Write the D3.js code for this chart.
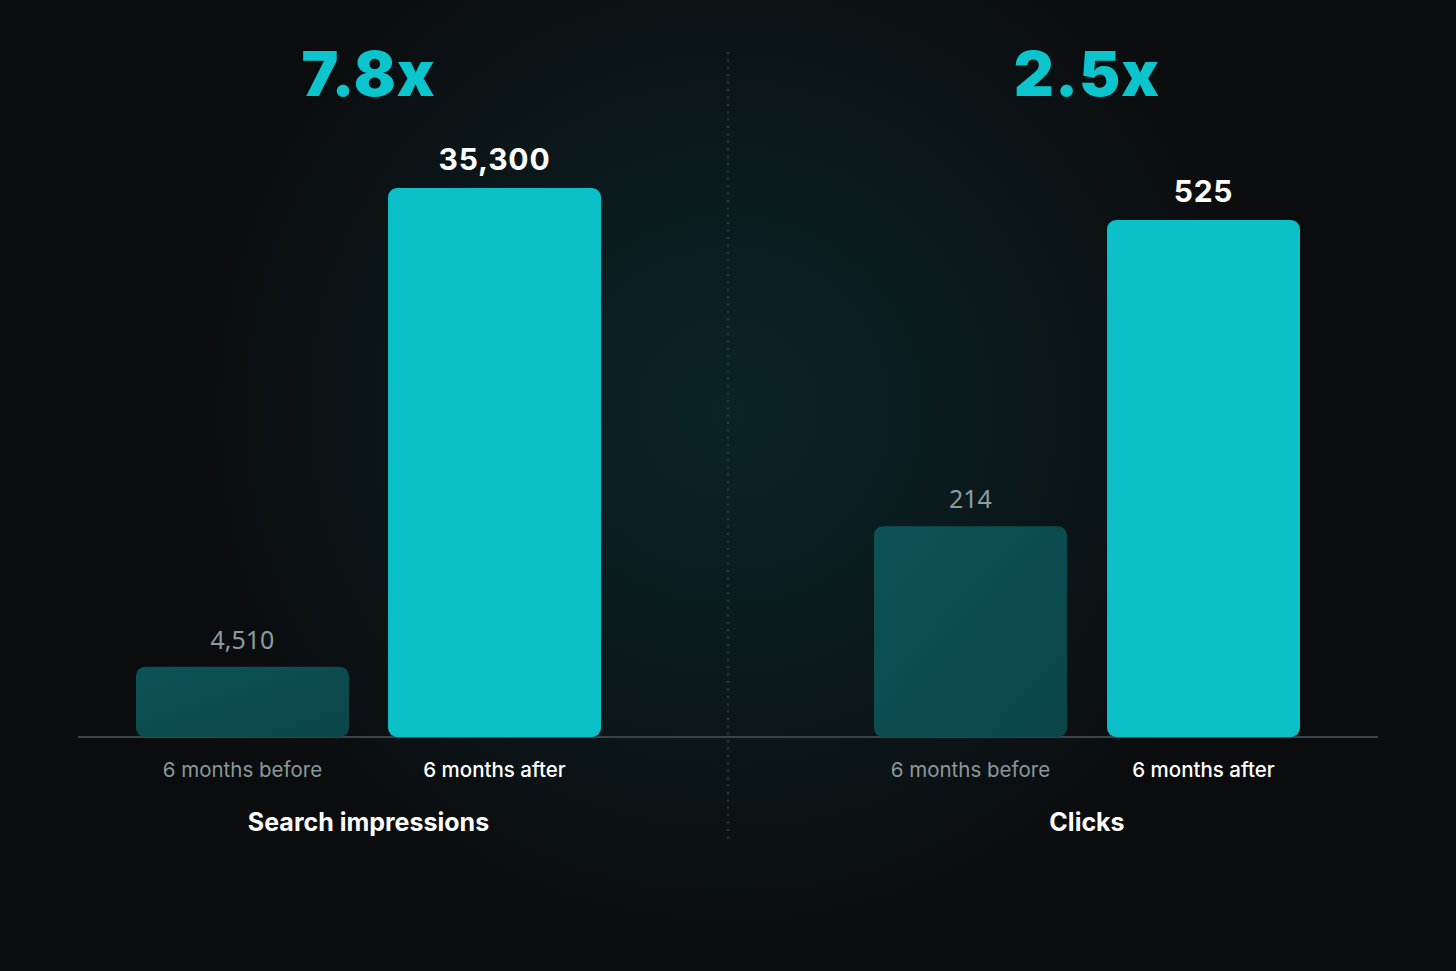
<!DOCTYPE html>
<html><head><meta charset="utf-8">
<script src="https://cdn.jsdelivr.net/npm/d3@7"></script>
<style>
html,body{margin:0;padding:0;background:#0b0c0d;}
svg{display:block;}
</style></head>
<body>
<svg id="chart" width="1456" height="971"></svg>
<script>
// ---- data ----
const panelTitles = ["Search impressions", "Clicks"];
const multipliers = ["7.8x", "2.5x"];
const periods = ["6 months before", "6 months after"];
const impressionsValues = [4510, 35300];
const clicksValues = [214, 525];

const svg = d3.select("#chart");
const W = 1456, H = 971, baseY = 737;

// background
const defs = svg.append("defs");
const rg = defs.append("radialGradient").attr("id","bg").attr("gradientUnits","userSpaceOnUse")
  .attr("cx",728).attr("cy",410).attr("r",560);
rg.append("stop").attr("offset","0%").attr("stop-color","#0b2428");
rg.append("stop").attr("offset","45%").attr("stop-color","#0b1a1d");
rg.append("stop").attr("offset","100%").attr("stop-color","#0b0c0d");
svg.append("rect").attr("width",W).attr("height",H).attr("fill","#0b0c0d");
svg.append("rect").attr("width",W).attr("height",H).attr("fill","url(#bg)");

const lg = defs.append("linearGradient").attr("id","beforeGrad").attr("x1","0").attr("y1","0").attr("x2","1").attr("y2","1");
lg.append("stop").attr("offset","0%").attr("stop-color","#0c5256");
lg.append("stop").attr("offset","100%").attr("stop-color","#0b4649");

// divider
svg.append("line").attr("x1",728).attr("x2",728).attr("y1",52).attr("y2",844)
  .attr("stroke","#2b3a3c").attr("stroke-width",2).attr("stroke-dasharray","2 5.4");

// baseline
svg.append("line").attr("x1",78).attr("x2",1378).attr("y1",baseY).attr("y2",baseY)
  .attr("stroke","#3a4345").attr("stroke-width",2);

const panels = [
  {title: panelTitles[0], mult: multipliers[0], values: impressionsValues, x0: 136, x1: 601, pad: 0.155, top: 188},
  {title: panelTitles[1], mult: multipliers[1], values: clicksValues, x0: 874, x1: 1300, pad: 0.172, top: 220}
];

panels.forEach(p => {
  const x = d3.scaleBand().domain(periods).range([p.x0, p.x1]).paddingInner(p.pad).paddingOuter(0);
  const y = d3.scaleLinear().domain([0, d3.max(p.values)]).range([baseY, p.top]);
  const cx = (p.x0 + p.x1) / 2;
  const g = svg.append("g");

  g.selectAll("rect.bar").data(p.values).join("rect")
    .attr("class","bar")
    .attr("x",(d,i)=>x(periods[i]))
    .attr("width",x.bandwidth())
    .attr("y",d=>y(d))
    .attr("height",d=>baseY - y(d))
    .attr("rx",9).attr("ry",9)
    .attr("fill",(d,i)=> i===0 ? "url(#beforeGrad)" : "#0bc0c8");

  g.selectAll("text.val").data(p.values).join("text")
    .attr("class","val")
    .attr("x",(d,i)=>x(periods[i]) + x.bandwidth()/2)
    .attr("y",d=>y(d) - 18)
    .attr("text-anchor","middle")
    .attr("font-family",(d,i)=> i===0 ? "'Noto Sans', sans-serif" : "Inter, sans-serif")
    .attr("font-weight",(d,i)=> i===0 ? 400 : 700)
    .attr("font-size",(d,i)=> i===0 ? 25 : 30)
    .attr("letter-spacing",(d,i)=> i===0 ? 0 : 0.8)
    .attr("fill",(d,i)=> i===0 ? "#8c9ba0" : "#ffffff")
    .text(d=>d3.format(",")(d));

  g.selectAll("text.cat").data(periods).join("text")
    .attr("class","cat")
    .attr("x",d=>x(d) + x.bandwidth()/2)
    .attr("y",777)
    .attr("text-anchor","middle")
    .attr("font-family","Inter, sans-serif")
    .attr("font-weight",(d,i)=> i===0 ? 400 : 500)
    .attr("font-size",20.5)
    .attr("fill",(d,i)=> i===0 ? "#8a989c" : "#ffffff")
    .text(d=>d);

  g.append("text").attr("x",cx).attr("y",831).attr("text-anchor","middle")
    .attr("font-family","Inter, sans-serif").attr("font-weight",700).attr("font-size",25)
    .attr("fill","#ffffff").text(p.title);

  g.append("text").attr("x",cx).attr("y",96).attr("text-anchor","middle")
    .attr("font-family","Inter, sans-serif").attr("font-weight",900).attr("font-size",62)
    .attr("letter-spacing",1)
    .attr("fill","#0cc4cb").text(p.mult);
});
</script>
</body></html>
